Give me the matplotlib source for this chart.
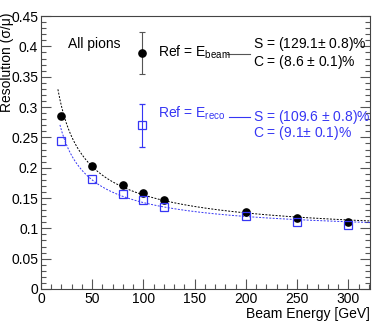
import numpy as np
import matplotlib
matplotlib.use("Agg")
import matplotlib.pyplot as plt
from matplotlib.ticker import MultipleLocator

plt.rcParams['font.family'] = ['Liberation Sans', 'DejaVu Sans']
plt.rcParams['mathtext.fontset'] = 'custom'
plt.rcParams['mathtext.rm'] = 'Liberation Sans'
plt.rcParams['mathtext.it'] = 'Liberation Sans'

energy = [20, 50, 80, 100, 120, 200, 250, 300]
res_beam = [0.285, 0.203, 0.171, 0.158, 0.147, 0.127, 0.1165, 0.111]
res_reco = [0.2445, 0.182, 0.157, 0.1466, 0.136, 0.1198, 0.110, 0.106]
# fit parameters (stochastic S, constant C), as shown on the chart
S_beam, C_beam = 1.291, 0.086
S_reco, C_reco = 1.096, 0.091

black = 'black'
blue = '#3636f4'
fs = 10

fig = plt.figure(figsize=(3.74, 3.22), dpi=100)
ax = fig.add_axes([0.1096, 0.1025, 0.8797, 0.8475])

e_fit = np.linspace(16.5, 321, 300)
ax.plot(e_fit, np.sqrt(S_beam**2 / e_fit + C_beam**2), ls=(0, (2, 1.5)), color=black, lw=0.7)
e_fit2 = np.linspace(18.5, 321, 300)
ax.plot(e_fit2, np.sqrt(S_reco**2 / e_fit2 + C_reco**2), ls=(0, (2, 1.5)), color=blue, lw=0.7)

ax.plot(energy, res_beam, 'o', color=black, ms=5.2, zorder=5)
ax.plot(energy, res_reco, 's', mfc='none', mec=blue, mew=0.9, ms=5.5, zorder=5)

ax.set_xlim(0, 321)
ax.set_ylim(0, 0.45)
ax.xaxis.set_minor_locator(MultipleLocator(10))
ax.yaxis.set_minor_locator(MultipleLocator(0.01))
ax.set_xticks([0, 50, 100, 150, 200, 250, 300])
ax.set_xticklabels(['0', '50', '100', '150', '200', '250', '300'])
ax.set_yticks([0, 0.05, 0.1, 0.15, 0.2, 0.25, 0.3, 0.35, 0.4, 0.45])
ax.set_yticklabels(['0', '0.05', '0.1', '0.15', '0.2', '0.25', '0.3', '0.35', '0.4', '0.45'])
ax.tick_params(which='both', direction='in', top=False, right=True, labelsize=fs, color='#555555')
ax.tick_params(which='major', length=7, width=0.8, pad=2)
ax.tick_params(which='minor', length=3.5, width=0.8)
for sp in ax.spines.values():
    sp.set_linewidth(0.8)
    sp.set_color('#444444')

ax.set_xlabel('Beam Energy [GeV]', fontsize=fs, loc='right', labelpad=1)
fig.text(7.5 / 374, 1 - 13 / 322, 'Resolution (σ/μ)', rotation=90, ha='center', va='top', fontsize=fs)

# legend-like annotations
ax.text(0.081, 0.898, 'All pions', transform=ax.transAxes, fontsize=fs, va='center', ha='left')
ax.errorbar([0.308], [0.864], yerr=[[0.078], [0.078]], transform=ax.transAxes,
            fmt='o', color=black, ecolor='#555555', ms=5.2, capsize=2.5, elinewidth=0.8, capthick=0.8)
ax.errorbar([0.308], [0.60], yerr=[[0.078], [0.078]], transform=ax.transAxes,
            fmt='s', mfc='none', mec=blue, ecolor=blue, mew=0.9, ms=5.5, capsize=2.5, elinewidth=0.8, capthick=0.8)
ax.text(0.356, 0.866, r'Ref = E$_{\mathregular{beam}}$', transform=ax.transAxes, fontsize=fs,
        va='center', ha='left', color=black)
ax.text(0.356, 0.642, r'Ref = E$_{\mathregular{reco}}$', transform=ax.transAxes, fontsize=fs,
        va='center', ha='left', color=blue)
ax.plot([0.565, 0.635], [0.862, 0.862], transform=ax.transAxes, color='#555555', lw=0.8)
ax.plot([0.572, 0.635], [0.63, 0.63], transform=ax.transAxes, color=blue, lw=0.8)
ax.text(0.645, 0.898, 'S = (129.1$\\pm$ 0.8)%', transform=ax.transAxes, fontsize=fs,
        va='center', ha='left', color=black)
ax.text(0.645, 0.830, 'C = (8.6 $\\pm$ 0.1)%', transform=ax.transAxes, fontsize=fs,
        va='center', ha='left', color=black)
ax.text(0.645, 0.630, 'S = (109.6 $\\pm$ 0.8)%', transform=ax.transAxes, fontsize=fs,
        va='center', ha='left', color=blue)
ax.text(0.645, 0.572, 'C = (9.1$\\pm$ 0.1)%', transform=ax.transAxes, fontsize=fs,
        va='center', ha='left', color=blue)

fig.savefig('out.png', dpi=100)
